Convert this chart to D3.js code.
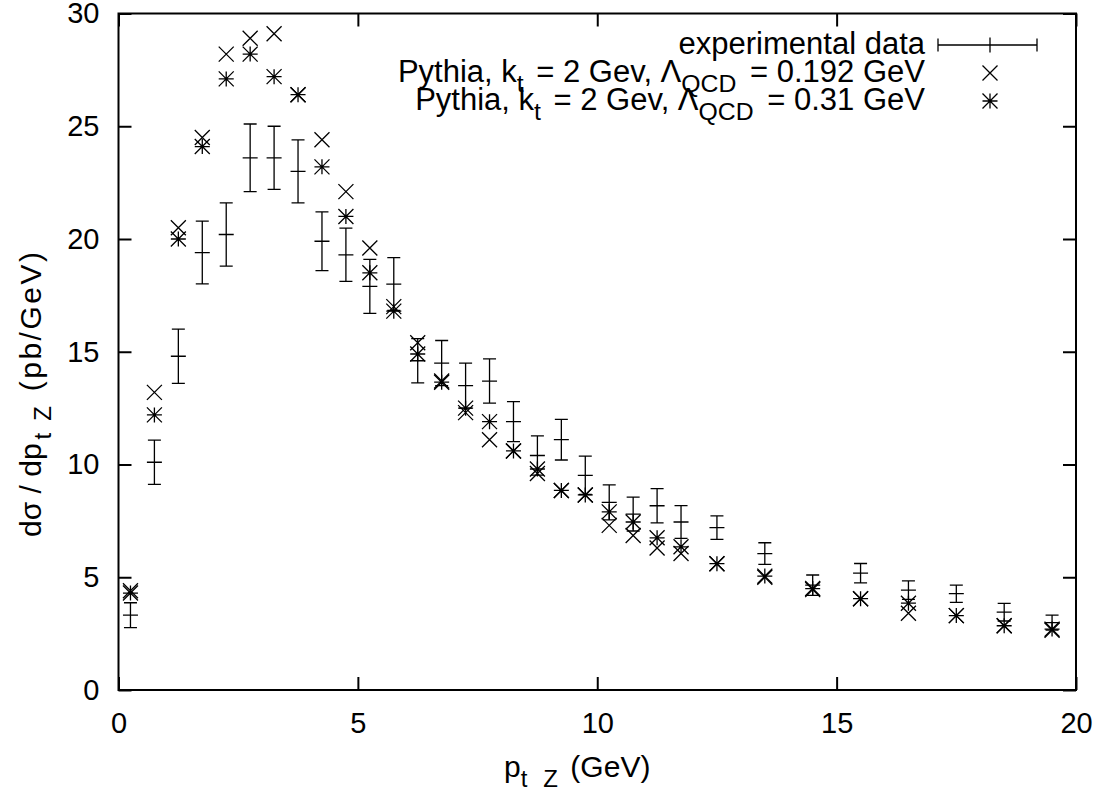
<!DOCTYPE html>
<html>
<head>
<meta charset="utf-8">
<script src="https://cdn.jsdelivr.net/npm/d3@7"></script>
<style>
    body { margin: 0; background: #fff; }
    svg text { font-family: "Liberation Sans", Arial, sans-serif; fill: #000; }
</style>
</head>
<body>
<div id="chart"></div>
<script>

// bin centres (GeV)
const ptBins = [0.25, 0.75, 1.25, 1.75, 2.25, 2.75, 3.25, 3.75, 4.25, 4.75, 5.25, 5.75,
    6.25, 6.75, 7.25, 7.75, 8.25, 8.75, 9.25, 9.75, 10.25, 10.75, 11.25, 11.75,
    12.5, 13.5, 14.5, 15.5, 16.5, 17.5, 18.5, 19.5];

// experimental data and its errors
const expValues = [3.32, 10.1, 14.8, 19.4, 20.2, 23.6, 23.6, 23.0, 19.9, 19.3, 17.9, 18.0,
    14.6, 14.5, 13.5, 13.7, 11.9, 10.4, 11.1, 9.52, 8.32, 7.8, 8.17, 7.45,
    7.2, 6.05, 4.65, 5.18, 4.43, 4.27, 3.45, 2.99];
const expErrors = [0.55, 0.98, 1.2, 1.39, 1.4, 1.5, 1.4, 1.4, 1.3, 1.18, 1.2, 1.17,
    0.98, 1.0, 1.0, 0.98, 0.89, 0.87, 0.9, 0.85, 0.78, 0.75, 0.76, 0.73,
    0.52, 0.48, 0.45, 0.43, 0.41, 0.38, 0.39, 0.33];

// Pythia, Lambda_QCD = 0.192 GeV
const pythia192 = [4.4, 13.2, 20.5, 24.5, 28.2, 28.9, 29.1, 26.4, 24.4, 22.1, 19.6, 17.0,
    15.4, 13.7, 12.3, 11.1, 10.6, 9.6, 8.85, 8.65, 7.3, 6.85, 6.3, 6.05,
    5.6, 5.0, 4.45, 4.05, 3.4, 3.3, 2.85, 2.65];

// Pythia, Lambda_QCD = 0.31 GeV
const pythia31 = [4.3, 12.2, 20.0, 24.1, 27.1, 28.2, 27.2, 26.4, 23.2, 21.0, 18.5, 16.8,
    14.9, 13.65, 12.5, 11.9, 10.6, 9.8, 8.85, 8.65, 7.9, 7.45, 6.75, 6.35,
    5.6, 5.05, 4.5, 4.05, 3.85, 3.3, 2.85, 2.7];

const xTicks = [0, 5, 10, 15, 20];
const yTicks = [0, 5, 10, 15, 20, 25, 30];


let margin = {top: 13.5, right: 22, bottom: 103, left: 118.5};
let totalWidth = 1098, totalHeight = 793;
let width = totalWidth - margin.left - margin.right;
let height = totalHeight - margin.top - margin.bottom;

let svg = d3.select("#chart").append("svg")
    .attr("width", totalWidth)
    .attr("height", totalHeight);

let g = svg.append("g")
    .attr("transform", "translate(" + margin.left + "," + margin.top + ")");

// Scales
let x = d3.scaleLinear().domain([0, 20]).range([0, width]);
let y = d3.scaleLinear().domain([0, 30]).range([height, 0]);

const fontSize = 30;
const legendFont = 31;
const tickFont = 29;
const tickLen = 13;

// Axes: ticks point inward, mirrored on the opposite side
g.append("g")
    .attr("transform", "translate(0," + height + ")")
    .call(d3.axisBottom(x).tickValues(xTicks).tickSize(-tickLen).tickPadding(22))
    .call(ax => ax.select(".domain").remove());
g.append("g")
    .call(d3.axisTop(x).tickValues(xTicks).tickSize(-tickLen).tickFormat(""))
    .call(ax => ax.select(".domain").remove());
g.append("g")
    .call(d3.axisLeft(y).tickValues(yTicks).tickSize(-tickLen).tickPadding(19))
    .call(ax => ax.select(".domain").remove());
g.append("g")
    .attr("transform", "translate(" + width + ",0)")
    .call(d3.axisRight(y).tickValues(yTicks).tickSize(-tickLen).tickFormat(""))
    .call(ax => ax.select(".domain").remove());

g.selectAll(".tick line").attr("stroke", "#000").attr("stroke-width", 2);
g.selectAll(".tick text")
    .style("font-size", tickFont + "px")
    .style("font-family", "'Liberation Sans', Arial, sans-serif");

// border
g.append("rect")
    .attr("width", width)
    .attr("height", height)
    .attr("fill", "none")
    .attr("stroke", "#000")
    .attr("stroke-width", 2);

// helper for text with subscripts: parts = [[text, isSub, extraGapAfter], ...]
function richText(sel, parts, size) {
    let down = false;
    let gap = 0;
    parts.forEach(p => {
        let t = sel.append("tspan").text(p[0]);
        let dy = 0;
        if (p[1] && !down) { dy = 0.33; down = true; }
        else if (!p[1] && down) { dy = -0.33; down = false; }
        if (p[1]) t.style("font-size", "0.8em");
        if (dy !== 0) t.attr("dy", (dy * size) + "px");
        if (gap) t.attr("dx", gap);
        gap = p[2] || 0;
    });
}

// axis titles
let xTitle = svg.append("text")
    .attr("x", 504)
    .attr("y", 777)
    .style("font-size", fontSize + "px");
richText(xTitle, [["p", false], ["t", true, 16], ["Z", true, 4], [" (GeV)", false]], fontSize);

let yTitle = svg.append("text")
    .attr("transform", "translate(41,0) rotate(-90)")
    .attr("x", -537)
    .style("font-size", fontSize + "px");
richText(yTitle, [["d\u03c3 / dp", false, 4], ["t", true, 12], ["Z", true, 4], [" (pb/GeV)", false]], fontSize);
yTitle.select("tspan:last-child").style("letter-spacing", "2.5px");

// marker shapes
const mk = 7.5;
function crossPath(cx, cy) {
    return "M" + (cx - mk) + "," + (cy - mk) + "L" + (cx + mk) + "," + (cy + mk) +
        "M" + (cx - mk) + "," + (cy + mk) + "L" + (cx + mk) + "," + (cy - mk);
}
function plusPath(cx, cy) {
    return "M" + (cx - mk) + "," + cy + "L" + (cx + mk) + "," + cy +
        "M" + cx + "," + (cy - mk) + "L" + cx + "," + (cy + mk);
}
function errPath(cx, cy, yTop, yBot) {
    let c = 6.5;
    return "M" + cx + "," + yTop + "L" + cx + "," + yBot +
        "M" + (cx - c) + "," + yTop + "L" + (cx + c) + "," + yTop +
        "M" + (cx - c) + "," + yBot + "L" + (cx + c) + "," + yBot +
        "M" + (cx - mk) + "," + cy + "L" + (cx + mk) + "," + cy;
}

let expData = ptBins.map((d, i) => ({pt: d, v: expValues[i], e: expErrors[i]}));
let p192 = ptBins.map((d, i) => ({pt: d, v: pythia192[i]}));
let p31 = ptBins.map((d, i) => ({pt: d, v: pythia31[i]}));

let marks = g.append("g")
    .attr("fill", "none")
    .attr("stroke", "#000")
    .attr("stroke-width", 1.3);

marks.selectAll(".err")
    .data(expData)
    .enter().append("path")
    .attr("class", "err")
    .attr("d", d => errPath(x(d.pt), y(d.v), y(d.v + d.e), y(d.v - d.e)));

marks.selectAll(".x192")
    .data(p192)
    .enter().append("path")
    .attr("class", "x192")
    .attr("d", d => crossPath(x(d.pt), y(d.v)));

marks.selectAll(".s31")
    .data(p31)
    .enter().append("path")
    .attr("class", "s31")
    .attr("d", d => crossPath(x(d.pt), y(d.v)) + plusPath(x(d.pt), y(d.v)));

// Legend
let legendX = 925, sampleX = 990;
let rows = [45, 73, 101];
let legend = svg.append("g");

let l1 = legend.append("text").attr("x", legendX).attr("y", rows[0] + 9)
    .attr("text-anchor", "end").style("font-size", legendFont + "px");
richText(l1, [["experimental data", false]], legendFont);
let l2 = legend.append("text").attr("x", legendX).attr("y", rows[1] + 9)
    .attr("text-anchor", "end").style("font-size", legendFont + "px");
richText(l2, [["Pythia, k", false], ["t", true, 4], [" = 2 Gev, \u039b", false], ["QCD", true, 5], [" = 0.192 GeV", false]], legendFont);
let l3 = legend.append("text").attr("x", legendX).attr("y", rows[2] + 9)
    .attr("text-anchor", "end").style("font-size", legendFont + "px");
richText(l3, [["Pythia, k", false], ["t", true, 4], [" = 2 Gev, \u039b", false], ["QCD", true, 5], [" = 0.31 GeV", false]], legendFont);

let lm = legend.append("g").attr("fill", "none").attr("stroke", "#000").attr("stroke-width", 1.3);
// horizontal error-bar sample
lm.append("path").attr("d",
    "M938," + rows[0] + "L1037," + rows[0] +
    "M938," + (rows[0] - 6.5) + "L938," + (rows[0] + 6.5) +
    "M1037," + (rows[0] - 6.5) + "L1037," + (rows[0] + 6.5) +
    "M" + sampleX + "," + (rows[0] - mk) + "L" + sampleX + "," + (rows[0] + mk));
lm.append("path").attr("d", crossPath(sampleX, rows[1]));
lm.append("path").attr("d", crossPath(sampleX, rows[2]) + plusPath(sampleX, rows[2]));

</script>
</body>
</html>
